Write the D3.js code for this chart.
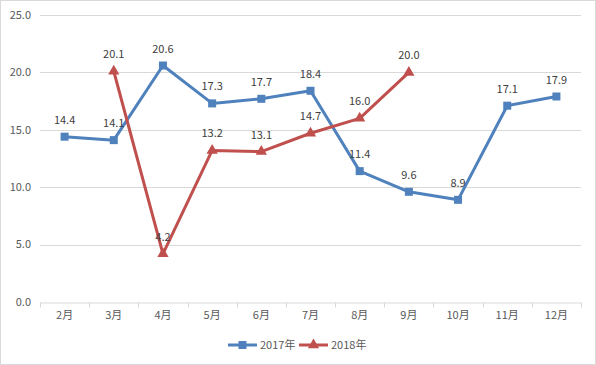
<!DOCTYPE html>
<html>
<head>
<meta charset="utf-8">
<script src="https://cdn.jsdelivr.net/npm/d3@7/dist/d3.min.js"></script>
<style>
  body { margin: 0; background: #fff; }
  svg text { font-family: "Noto Sans CJK SC", "Noto Sans", sans-serif; }
</style>
</head>
<body>
<div id="chart"></div>
<script>
// chart data
var months = ["2月", "3月", "4月", "5月", "6月", "7月", "8月", "9月", "10月", "11月", "12月"];
var values2017 = [14.4, 14.1, 20.6, 17.3, 17.7, 18.4, 11.4, 9.6, 8.9, 17.1, 17.9];
var months2018 = ["3月", "4月", "5月", "6月", "7月", "8月", "9月"];
var values2018 = [20.1, 4.2, 13.2, 13.1, 14.7, 16.0, 20.0];
var yTicks = [0, 5, 10, 15, 20, 25];
var seriesNames = ["2017年", "2018年"];

var width = 596, height = 365;
var margin = {top: 15, right: 15, bottom: 63, left: 40};

var svg = d3.select("#chart").append("svg")
  .attr("width", width)
  .attr("height", height);

// outer border
svg.append("rect")
  .attr("x", 0.5).attr("y", 0.5)
  .attr("width", width - 1).attr("height", height - 1)
  .attr("fill", "#fff").attr("stroke", "#d9d9d9");

var x = d3.scaleBand().domain(months).range([margin.left, width - margin.right]);
var y = d3.scaleLinear().domain([0, 25]).range([height - margin.bottom, margin.top]);

// gridlines
svg.append("g").selectAll("line")
  .data(yTicks.slice(1))
  .enter().append("line")
  .attr("x1", margin.left).attr("x2", width - margin.right)
  .attr("y1", function(d) { return Math.round(y(d)) + 0.5; })
  .attr("y2", function(d) { return Math.round(y(d)) + 0.5; })
  .attr("stroke", "#d9d9d9");

// y labels
svg.append("g").selectAll("text")
  .data(yTicks)
  .enter().append("text")
  .attr("x", margin.left - 9)
  .attr("y", function(d) { return y(d); })
  .attr("dy", "0.35em")
  .attr("text-anchor", "end")
  .attr("font-size", 11)
  .attr("fill", "#595959")
  .text(function(d) { return d.toFixed(1); });

// x axis
var xAxis = d3.axisBottom(x).tickSize(0).tickPadding(9);
var gx = svg.append("g")
  .attr("transform", "translate(0," + (Math.round(y(0)) + 0.5) + ")")
  .call(xAxis);
gx.select(".domain").attr("stroke", "#d9d9d9");
gx.selectAll("text").attr("font-size", 11).attr("fill", "#595959")
  .style("font-family", "\"Noto Sans CJK SC\", sans-serif");
// tick marks at band boundaries
var bounds = months.map(function(m) { return x(m); }).concat([x.range()[1]]);
gx.selectAll(".bound").data(bounds).enter().append("line")
  .attr("x1", function(d) { return Math.round(d) + 0.5; })
  .attr("x2", function(d) { return Math.round(d) + 0.5; })
  .attr("y1", 0).attr("y2", 5)
  .attr("stroke", "#d9d9d9");

var cx = function(m) { return x(m) + x.bandwidth() / 2; };

var series = [
  {name: seriesNames[0], cats: months, vals: values2017, color: "#4f81bd", marker: "square"},
  {name: seriesNames[1], cats: months2018, vals: values2018, color: "#c0504d", marker: "triangle"}
];

var line = d3.line()
  .x(function(d) { return cx(d[0]); })
  .y(function(d) { return y(d[1]); });

var drawMarker = function(g, type, color) {
  if (type === "square") {
    g.append("rect").attr("x", -4).attr("y", -4).attr("width", 8).attr("height", 8)
      .attr("fill", color);
  } else {
    g.append("path").attr("d", d3.symbol().type(d3.symbolTriangle).size(55))
      .attr("fill", color);
  }
};

series.forEach(function(s) {
  var pts = s.cats.map(function(c, i) { return [c, s.vals[i]]; });
  svg.append("path")
    .datum(pts)
    .attr("d", line)
    .attr("fill", "none")
    .attr("stroke", s.color)
    .attr("stroke-width", 3)
    .attr("stroke-linejoin", "round");

  svg.append("g").selectAll("g")
    .data(pts)
    .enter().append("g")
    .attr("transform", function(d) { return "translate(" + cx(d[0]) + "," + y(d[1]) + ")"; })
    .each(function() { drawMarker(d3.select(this), s.marker, s.color); });

  svg.append("g").selectAll("text")
    .data(pts)
    .enter().append("text")
    .attr("x", function(d) { return cx(d[0]); })
    .attr("y", function(d) { return y(d[1]) - 13; })
    .attr("text-anchor", "middle")
    .attr("font-size", 11)
    .attr("fill", "#404040")
    .text(function(d) { return d[1].toFixed(1); });
});

// legend
var legend = svg.append("g").attr("transform", "translate(228,345)");
series.forEach(function(s, i) {
  var lg = legend.append("g").attr("transform", "translate(" + (i * 71) + ",0)");
  lg.append("line").attr("x1", 0).attr("x2", 29).attr("y1", 0).attr("y2", 0)
    .attr("stroke", s.color).attr("stroke-width", 3);
  var mk = lg.append("g").attr("transform", "translate(14.5,0)");
  drawMarker(mk, s.marker, s.color);
  lg.append("text").attr("x", 32).attr("y", 0).attr("dy", "0.35em")
    .attr("font-size", 11).attr("fill", "#595959").text(s.name);
});
</script>
</body>
</html>
